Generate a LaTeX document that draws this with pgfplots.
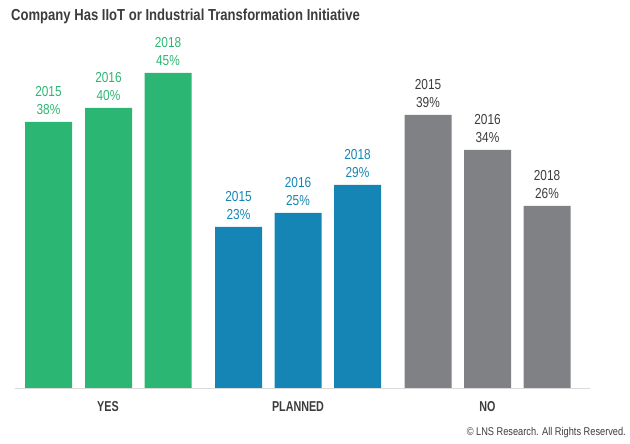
\documentclass[border=0pt]{standalone}
\usepackage{pgfplots}
\pgfplotsset{compat=1.18}
\usepackage{fontspec}
\setmainfont{Liberation Sans}[FakeStretch=0.82]
\newfontfamily\condbold{Liberation Sans}[FakeStretch=0.75]
\newfontfamily\titlefont{Liberation Sans}[FakeStretch=0.82]
\definecolor{cgreen}{HTML}{2CB673}
\definecolor{cblue}{HTML}{1485B4}
\definecolor{cgray}{HTML}{808184}
\definecolor{ctext}{HTML}{3C3C3C}
\definecolor{cline}{HTML}{DADADA}
\begin{document}
\begin{tikzpicture}[x=1bp,y=1bp]
\useasboundingbox (0,0) rectangle (630,444);
\node[anchor=base west, inner sep=0pt, text=ctext, font=\titlefont\bfseries\fontsize{16}{19}\selectfont] at (11,423.3) {Company Has IIoT or Industrial Transformation Initiative};
\node[anchor=base east, inner sep=0pt, text=ctext, font=\fontsize{11.3}{13}\selectfont] at (626,8) {© LNS Research. All Rights Reserved.};
\begin{axis}[
  at={(15bp,56bp)}, anchor=south west,
  scale only axis, width=575bp, height=315bp,
  xmin=15, xmax=590, ymin=0, ymax=45,
  axis x line*=bottom, axis y line=none,
  x axis line style={draw=cline, line width=0.8pt, -},
  xtick={108,298,487.5}, xticklabels={YES,PLANNED,NO},
  major tick length=0pt,
  xticklabel style={text=ctext, font=\condbold\bfseries\fontsize{14.4}{16}\selectfont, anchor=base, yshift=-24bp},
  ytick=\empty,
  clip=false,
  point meta=explicit symbolic,
  nodes near coords,
  every node near coord/.append style={align=center, inner sep=0pt, yshift=7bp, font=\fontsize{14.5}{18.5}\selectfont},
]
\addplot[ybar, bar width=47bp, bar shift=0pt, fill=cgreen, draw=none,
  every node near coord/.append style={text=cgreen}] coordinates {
  (48.5,38) [2015\\38\%]
  (108.5,40) [2016\\40\%]
  (168,45) [2018\\45\%]
};
\addplot[ybar, bar width=47bp, bar shift=0pt, fill=cblue, draw=none,
  every node near coord/.append style={text=cblue}] coordinates {
  (238.5,23) [2015\\23\%]
  (298,25) [2016\\25\%]
  (357.5,29) [2018\\29\%]
};
\addplot[ybar, bar width=47bp, bar shift=0pt, fill=cgray, draw=none,
  every node near coord/.append style={text=ctext}] coordinates {
  (428,39) [2015\\39\%]
  (487.5,34) [2016\\34\%]
  (547,26) [2018\\26\%]
};
\end{axis}
\end{tikzpicture}
\end{document}
